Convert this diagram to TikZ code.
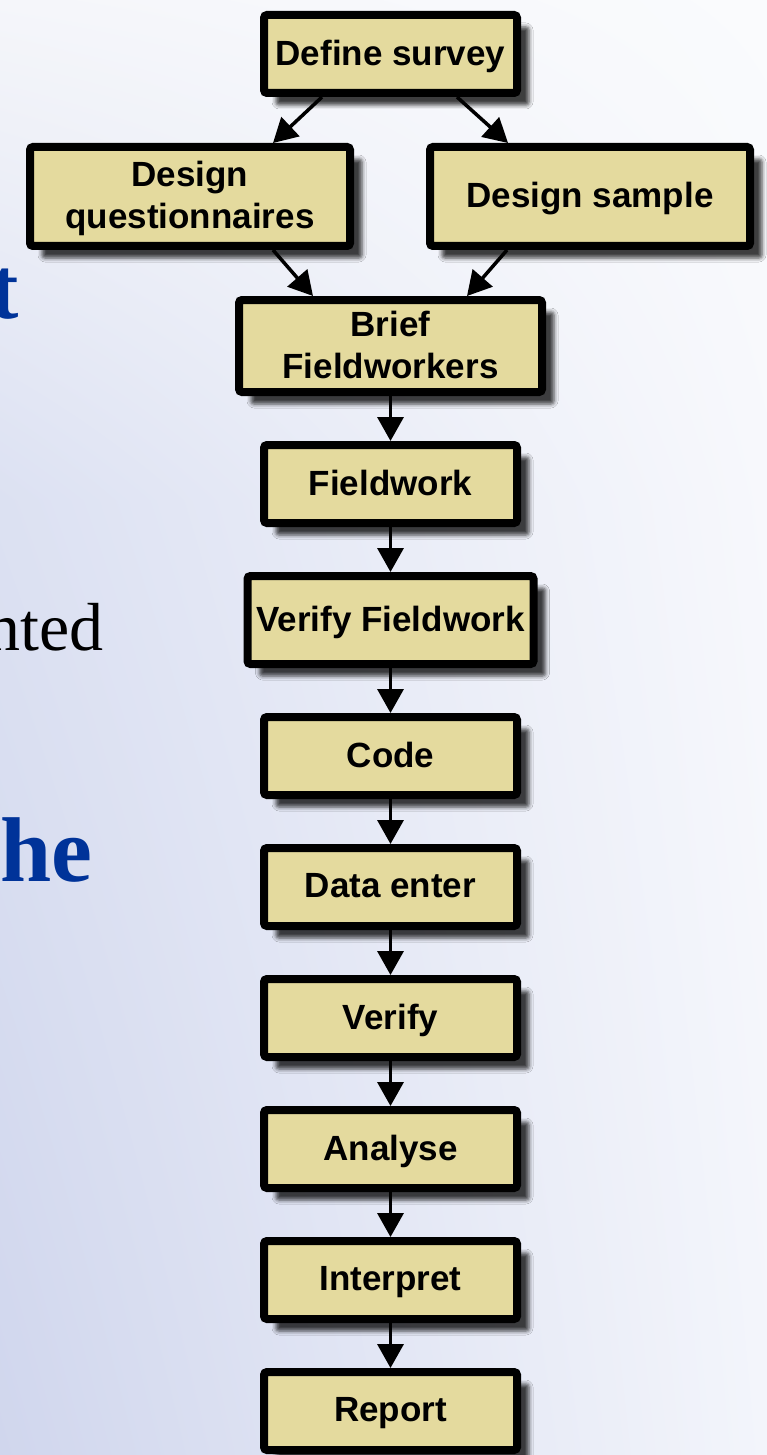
\documentclass[tikz,border=0pt]{standalone}
\usepackage{fontspec}
\setmainfont{Liberation Serif}
\setsansfont{Liberation Sans}
\usetikzlibrary{positioning,arrows.meta,shadows.blur,shadings}
\definecolor{sable}{RGB}{228,218,158}
\definecolor{bleutitre}{RGB}{0,51,153}
\definecolor{fondA}{RGB}{245,246,250}
\definecolor{fondB}{RGB}{220,225,242}
\definecolor{fondC}{RGB}{208,214,237}
\definecolor{fondD}{RGB}{250,251,253}
\definecolor{fondE}{RGB}{247,248,252}
\definecolor{fondF}{RGB}{243,245,251}
\tikzstyle{boite}=[rectangle,rounded corners=3pt,draw=black,line width=8pt,fill=sable,inner sep=4pt,text depth=3pt,align=center,blur shadow={shadow xshift=12pt,shadow yshift=-12pt,shadow blur radius=4pt,shadow opacity=75},font=\sffamily\bfseries\fontsize{35}{42}\selectfont]
\tikzstyle{etape}=[boite,minimum width=253pt,minimum height=78pt]
\tikzstyle{fleche}=[line width=3.5pt,-{Triangle[width=26pt,length=24pt]}]
\tikzstyle{morceau}=[inner sep=0pt,anchor=base east]

\begin{document}
\begin{tikzpicture}[x=1pt,y=1pt,node distance=45pt]

\useasboundingbox (0,0) rectangle (767,-1455);
\clip (0,0) rectangle (767,-1455);
% fond du transparent
\shade[upper left=fondA,lower left=fondB,upper right=fondD,lower right=fondE] (0,0) rectangle (767,-500);
\shade[upper left=fondB,lower left=fondC,upper right=fondE,lower right=fondF] (0,-500) rectangle (767,-1455);

% bouts de texte coupes a gauche
\node[morceau,font=\bfseries\fontsize{88}{88}\selectfont,text=bleutitre] (L1) at (19,-318) {t};
\node[morceau,font=\fontsize{68}{68}\selectfont] (L2) at (104,-650) {nted};
\node[morceau,font=\bfseries\fontsize{92}{92}\selectfont,text=bleutitre] (L3) at (93,-881) {he};

\node[etape] (E00) at (390.5,-54) {Define survey};
\node[boite,minimum width=320pt,minimum height=99pt] (E10) at (190,-196.5) {Design\\questionnaires};
\node[boite,minimum width=320pt,minimum height=99pt] (E11) at (590,-196.5) {Design sample};
\node[boite,minimum width=303pt,minimum height=92pt] (E20) at (390.5,-346) {Brief\\Fieldworkers};
\node[etape] (E30) [below =of E20] {Fieldwork};
\node[boite,minimum width=286pt,minimum height=88pt] (E40) [below =of E30] {Verify Fieldwork};
\node[etape] (E50) [below =of E40] {Code};
\node[etape] (E60) [below =of E50] {Data enter};
\node[etape] (E70) [below =of E60] {Verify};
\node[etape] (E80) [below =of E70] {Analyse};
\node[etape] (E90) [below =of E80] {Interpret};
\node[etape] (E100) [below =of E90] {Report};

\draw[fleche] ([xshift=62pt]E00.south west) to ([xshift=-81pt]E10.north east);
\draw[fleche] ([xshift=-64pt]E00.south east) to ([xshift=82pt]E11.north west);
\draw[fleche] ([xshift=-81pt]E10.south east) to ([xshift=78pt]E20.north west);
\draw[fleche] ([xshift=81pt]E11.south west) to ([xshift=-79pt]E20.north east);
\draw[fleche] (E20.south) to (E30.north);
\draw[fleche] (E30.south) to (E40.north);
\draw[fleche] (E40.south) to (E50.north);
\draw[fleche] (E50.south) to (E60.north);
\draw[fleche] (E60.south) to (E70.north);
\draw[fleche] (E70.south) to (E80.north);
\draw[fleche] (E80.south) to (E90.north);
\draw[fleche] (E90.south) to (E100.north);

\end{tikzpicture}
\end{document}
